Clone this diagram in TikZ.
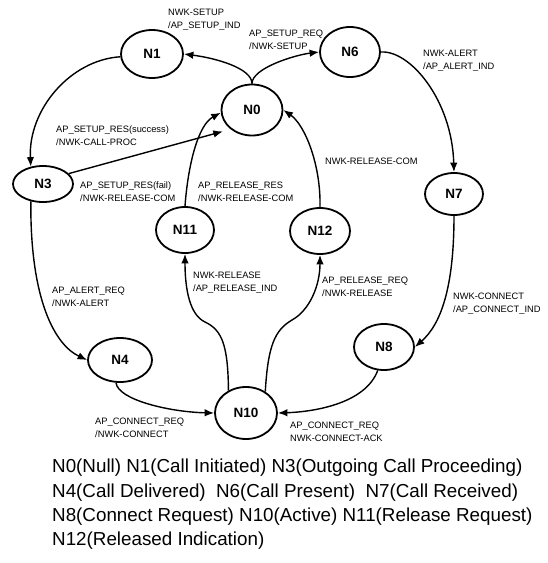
\documentclass[tikz,border=0pt]{standalone}
\usepackage{fontspec}
\setmainfont{Liberation Sans}
\usetikzlibrary{shapes.geometric,arrows.meta}
\begin{document}
\begin{tikzpicture}[x=1pt,y=-1pt,
  state/.style={ellipse,draw,line width=1.8pt,inner sep=0pt,
    font=\fontsize{13.5}{14}\selectfont\bfseries},
  trans/.style={line width=1.4pt,-{Latex[length=9.5pt,width=7.5pt]}},
  lbl/.style={anchor=north west,inner sep=0pt,align=left,
    font=\fontsize{9.3}{12.8}\selectfont},
  legendtext/.style={anchor=north west,inner sep=0pt,align=left,
    font=\fontsize{18.8}{24.2}\selectfont}]
\useasboundingbox (0,0) rectangle (547,563);

% states
\node[state,minimum width=61pt,minimum height=51pt] (n0)  at (252,110) {N0};
\node[state,minimum width=62pt,minimum height=48pt] (n1)  at (152,54)  {N1};
\node[state,minimum width=60pt,minimum height=50pt] (n6)  at (350,52)  {N6};
\node[state,minimum width=60pt,minimum height=36pt] (n3)  at (43,184)  {N3};
\node[state,minimum width=58pt,minimum height=42pt] (n7)  at (454,194) {N7};
\node[state,minimum width=58pt,minimum height=46pt] (n11) at (185,230) {N11};
\node[state,minimum width=60pt,minimum height=46pt] (n12) at (320,231) {N12};
\node[state,minimum width=64pt,minimum height=44pt] (n4)  at (120,360) {N4};
\node[state,minimum width=60pt,minimum height=46pt] (n8)  at (384,347) {N8};
\node[state,minimum width=62pt,minimum height=52pt] (n10) at (246,413) {N10};

% transitions
\draw[trans] (n0.north) .. controls (252,68) and (215,58) .. (n1.east);
\draw[trans] (n0.north) .. controls (252,68) and (295,55) .. (n6.west);
\draw[trans] (n1.185) .. controls (70,60) and (28,110) .. (n3.125);
\draw[trans,shorten >=8pt] (n3.22) -- (n0.222);
\draw[trans] (n11.north) .. controls (188,165) and (198,125) .. (n0.185);
\draw[trans] (n12.north) .. controls (321,165) and (305,125) .. (n0.east);
\draw[trans] (n6.east) .. controls (410,50) and (452,100) .. (n7.north);
\draw[trans] (n7.south) .. controls (454,290) and (440,325) .. (n8.east);
\draw[trans] (n3.235) .. controls (30,300) and (55,345) .. (n4.west);
\draw[trans] (n4.260) .. controls (118,400) and (170,412) .. (n10.west);
\draw[trans] (n8.255) .. controls (365,405) and (310,412) .. (n10.east);
\draw[trans] (n10.128) .. controls (228,345) and (222,330) .. (205,322)
  .. controls (190,315) and (185,290) .. (n11.south);
\draw[trans] (n10.48) .. controls (268,345) and (275,330) .. (292,320)
  .. controls (310,310) and (320,285) .. (n12.south);

% transition labels
\node[lbl] (l1)  at (168,9)   {NWK-SETUP\\/AP\_SETUP\_IND};
\node[lbl] (l2)  at (249,30)  {AP\_SETUP\_REQ\\/NWK-SETUP};
\node[lbl] (l3)  at (423,50)  {NWK-ALERT\\/AP\_ALERT\_IND};
\node[lbl] (l4)  at (56,126)  {AP\_SETUP\_RES(success)\\/NWK-CALL-PROC};
\node[lbl] (l5)  at (80,182)  {AP\_SETUP\_RES(fail)\\/NWK-RELEASE-COM};
\node[lbl] (l6)  at (198,182) {AP\_RELEASE\_RES\\/NWK-RELEASE-COM};
\node[lbl] (l7)  at (325,158) {NWK-RELEASE-COM};
\node[lbl] (l8)  at (193,272) {NWK-RELEASE\\/AP\_RELEASE\_IND};
\node[lbl] (l9)  at (322,277) {AP\_RELEASE\_REQ\\/NWK-RELEASE};
\node[lbl] (l10) at (52,287)  {AP\_ALERT\_REQ\\/NWK-ALERT};
\node[lbl] (l11) at (453,293) {NWK-CONNECT\\/AP\_CONNECT\_IND};
\node[lbl] (l12) at (95,418)  {AP\_CONNECT\_REQ\\/NWK-CONNECT};
\node[lbl] (l13) at (290,422) {AP\_CONNECT\_REQ\\NWK-CONNECT-ACK};

% legend
\node[legendtext] (legend) at (52,459) {N0(Null) N1(Call Initiated) N3(Outgoing Call Proceeding)\\
N4(Call Delivered)\ \ N6(Call Present)\ \ N7(Call Received)\\
N8(Connect Request) N10(Active) N11(Release Request)\\
N12(Released Indication)};
\end{tikzpicture}
\end{document}
